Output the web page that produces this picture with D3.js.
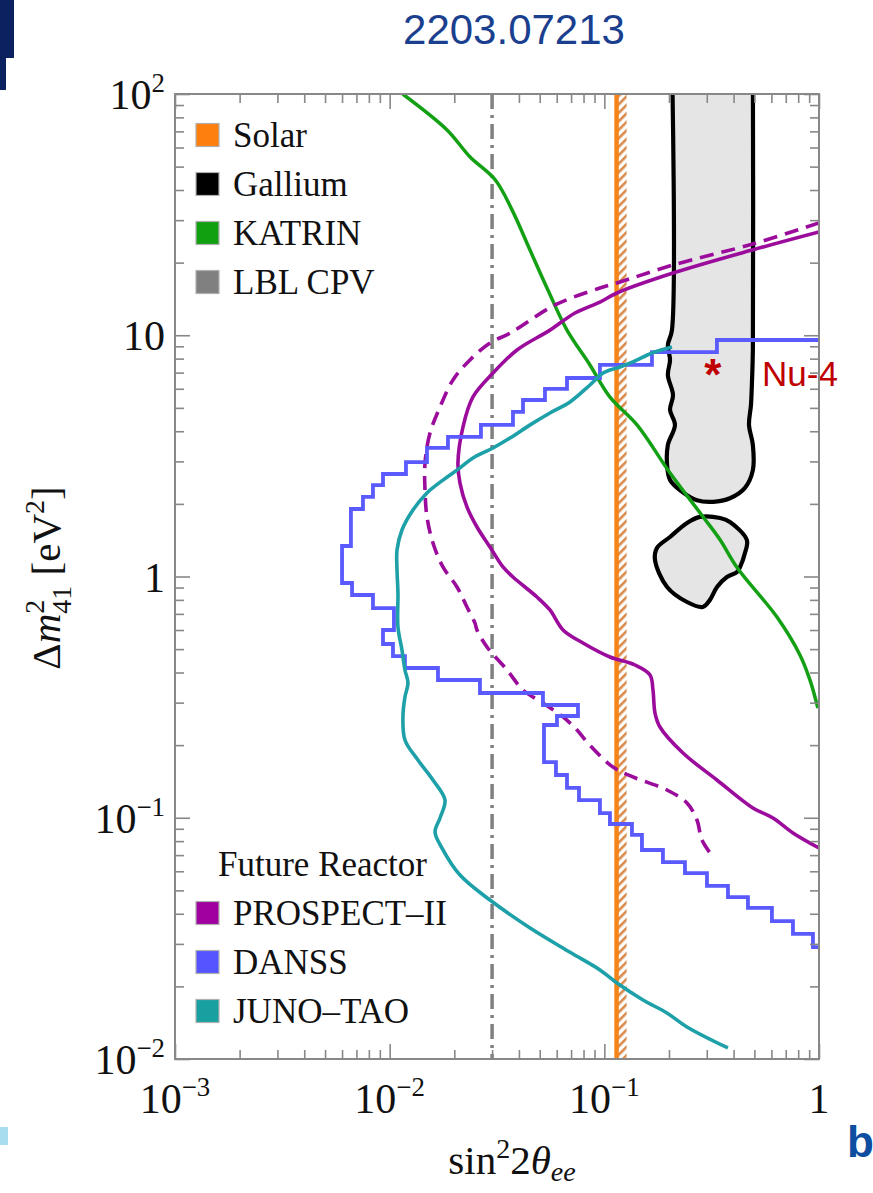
<!DOCTYPE html>
<html><head><meta charset="utf-8">
<script src="https://cdn.jsdelivr.net/npm/d3@7"></script>
<style>html,body{margin:0;padding:0;background:#fff;}svg{display:block;}</style>
</head><body>
<svg id="c" width="873" height="1193"></svg>
<script>
// ---------- data ----------
const xMajorTicks = [0.001, 0.01, 0.1, 1];
const xTickLabels = [["10","−3"],["10","−2"],["10","−1"],["1",""]];
const yMajorTicks = [0.01, 0.1, 1, 10, 100];
const yTickLabels = [["10","−2"],["10","−1"],["1",""],["10",""],["10","2"]];

const solarX = 0.114;      // solar bound
const solarBandEnd = 0.127; // hatched side
const lblCpvX = 0.03;       // LBL CPV dash-dot

const katrin = [[0.0115,100],[0.0185,71.0],[0.0237,54.8],[0.0310,44.1],[0.0372,33.0],[0.0451,22.5],[0.0546,15.4],[0.0670,10.5],[0.0857,7.53],[0.106,5.55],[0.142,4.25],[0.202,2.69],[0.288,1.77],[0.346,1.42],[0.415,1.09],[0.637,0.679],[0.815,0.473],[0.908,0.372],[0.988,0.285]];

const galliumUpper = [[0.2065,140],[0.2065,10.5],[0.1977,9.12],[0.2023,7.9],[0.1977,6.84],[0.2089,5.65],[0.2023,4.9],[0.2133,4.25],[0.1977,3.51],[0.196,2.9],[0.2023,2.51],[0.2249,2.28],[0.27,2.07],[0.3206,2.04],[0.3846,2.11],[0.4519,2.33],[0.492,2.76],[0.492,3.51],[0.472,4.25],[0.482,5.14],[0.4876,6.53],[0.492,8.68],[0.492,140]];
const galliumLower = [[0.279,1.766],[0.346,1.748],[0.3846,1.683],[0.4613,1.416],[0.4519,1.252],[0.4286,1.094],[0.415,1.044],[0.3724,0.995],[0.335,0.905],[0.3105,0.80],[0.2877,0.748],[0.2427,0.784],[0.196,0.905],[0.1722,1.17],[0.1758,1.313],[0.2023,1.458],[0.2427,1.667]];

const prospectSolid = [[1.0,26.8],[0.492,22.6],[0.2089,18.1],[0.1145,14.97],[0.0954,13.73],[0.0730,12.37],[0.0558,10.5],[0.0392,8.69],[0.03029,6.97],[0.02444,5.55],[0.02196,4.17],[0.0208,2.95],[0.02126,2.44],[0.02291,1.942],[0.02551,1.604],[0.02933,1.325],[0.03372,1.095],[0.03753,0.995],[0.04857,0.822],[0.0558,0.7266],[0.0642,0.600],[0.0795,0.530],[0.1062,0.4638],[0.1389,0.4297],[0.1632,0.3908],[0.1685,0.3385],[0.1722,0.2717],[0.1816,0.2378],[0.2325,0.1855],[0.3346,0.1434],[0.492,0.1098],[0.6102,0.0998],[0.7563,0.0865],[1.0,0.0749]];

const prospectDashed = [[1.0,29.2],[0.492,23.9],[0.2089,19.55],[0.1145,16.47],[0.0954,15.7],[0.0589,13.35],[0.03633,10.2],[0.02933,9.29],[0.02366,7.90],[0.01972,6.53],[0.01716,5.04],[0.01541,3.93],[0.01461,2.95],[0.01461,2.28],[0.01492,1.766],[0.01591,1.377],[0.01771,1.095],[0.02059,0.905],[0.02291,0.7475],[0.02495,0.6418],[0.02551,0.600],[0.02841,0.5101],[0.0352,0.4098],[0.0418,0.3385],[0.05177,0.299],[0.0642,0.2617],[0.0746,0.2311],[0.0857,0.1995],[0.1097,0.1623],[0.1359,0.1476],[0.1957,0.1303],[0.2426,0.1151],[0.2701,0.0979],[0.2849,0.0809],[0.3206,0.0688]];

const danss = [[1.0,9.557],[0.3346,9.557],[0.3346,8.52],[0.1667,8.52],[0.1667,7.53],[0.0954,7.53],[0.0954,6.65],[0.0670,6.65],[0.0670,5.99],[0.0529,5.99],[0.0529,5.39],[0.0418,5.39],[0.0418,4.81],[0.03753,4.81],[0.03753,4.25],[0.02662,4.25],[0.02662,3.79],[0.01869,3.79],[0.01869,3.41],[0.01492,3.41],[0.01492,2.98],[0.01191,2.98],[0.01191,2.66],[0.00931,2.66],[0.00931,2.39],[0.00836,2.39],[0.00836,2.14],[0.00751,2.14],[0.00751,1.905],[0.0066,1.905],[0.0066,1.338],[0.0060,1.338],[0.0060,0.940],[0.00668,0.940],[0.00668,0.838],[0.00836,0.838],[0.00836,0.740],[0.01047,0.740],[0.01047,0.600],[0.00931,0.600],[0.00931,0.525],[0.01036,0.525],[0.01036,0.468],[0.01178,0.468],[0.01178,0.4176],[0.01679,0.4176],[0.01679,0.3724],[0.02634,0.3724],[0.02634,0.329],[0.05177,0.329],[0.05177,0.2934],[0.07538,0.2934],[0.07538,0.2641],[0.06017,0.2641],[0.06017,0.2424],[0.05235,0.2424],[0.05235,0.170],[0.05952,0.170],[0.05952,0.1504],[0.0670,0.1504],[0.0670,0.1329],[0.0762,0.1329],[0.0762,0.1184],[0.0954,0.1184],[0.0954,0.1046],[0.1062,0.1046],[0.1062,0.0942],[0.1345,0.0942],[0.1345,0.0849],[0.1497,0.0849],[0.1497,0.0735],[0.1875,0.0735],[0.1875,0.0655],[0.2375,0.0655],[0.2375,0.0590],[0.3007,0.0590],[0.3007,0.0522],[0.3766,0.0522],[0.3766,0.0469],[0.4667,0.0469],[0.4667,0.0423],[0.6036,0.0423],[0.6036,0.0373],[0.7563,0.0373],[0.7563,0.0330],[0.9372,0.0330],[0.9372,0.0291],[1.0,0.0291]];

const junoTao = [[0.2065,8.94],[0.1667,8.44],[0.1359,7.75],[0.1183,7.39],[0.1062,7.18],[0.0986,6.97],[0.0857,6.22],[0.0692,5.29],[0.0558,4.76],[0.0451,4.25],[0.03633,3.75],[0.03029,3.41],[0.02444,3.10],[0.02126,2.82],[0.01771,2.51],[0.01492,2.22],[0.01284,1.887],[0.01141,1.559],[0.01082,1.288],[0.01082,1.064],[0.01093,0.854],[0.01093,0.6175],[0.01141,0.4958],[0.01178,0.4098],[0.01217,0.362],[0.01178,0.3166],[0.01153,0.2617],[0.01178,0.2101],[0.01354,0.1735],[0.01591,0.1434],[0.0181,0.1184],[0.01716,0.0998],[0.01627,0.0873],[0.01753,0.0749],[0.02126,0.0579],[0.02933,0.0456],[0.0451,0.0349],[0.0692,0.0277],[0.0954,0.0234],[0.1145,0.02065],[0.1514,0.01757],[0.1957,0.01552],[0.2426,0.01358],[0.3766,0.01111]];

const nu4 = {x: 0.32, y: 7.2, label: "Nu-4"};
const title = "2203.07213";

const legendTop = [
  {label:"Solar", color:"#ff7f0e"},
  {label:"Gallium", color:"#000000"},
  {label:"KATRIN", color:"#10a010"},
  {label:"LBL CPV", color:"#808080"}
];
const legendBottomTitle = "Future Reactor";
const legendBottom = [
  {label:"PROSPECT–II", color:"#a000a0"},
  {label:"DANSS", color:"#5555ff"},
  {label:"JUNO–TAO", color:"#18a0a0"}
];

// ---------- drawing ----------
const svg = d3.select("#c");
const L=175, R=819, T=94, B=1059;
const x = d3.scaleLog().domain([1e-3,1]).range([L,R]);
const y = d3.scaleLog().domain([1e-2,1e2]).range([B,T]);
const serif = "'Liberation Serif','DejaVu Serif',serif";
const sans = "'Liberation Sans',Arial,sans-serif";

// decorations
svg.append("rect").attr("x",0).attr("y",0).attr("width",14).attr("height",58).attr("fill","#0b2160");
svg.append("rect").attr("x",0).attr("y",58).attr("width",6).attr("height",32).attr("fill","#0b2160");
svg.append("rect").attr("x",0).attr("y",1127).attr("width",8).attr("height",18).attr("fill","#a8dcef");
svg.append("text").attr("x",514).attr("y",44).attr("text-anchor","middle")
  .attr("font-family",sans).attr("font-size",42).attr("fill","#1b3f8f").text(title);
svg.append("text").attr("x",847).attr("y",1157).attr("font-family",sans).attr("font-weight","bold")
  .attr("font-size",44).attr("fill","#0d4ea0").text("b");

const defs = svg.append("defs");
defs.append("clipPath").attr("id","clip").append("rect").attr("x",L).attr("y",T).attr("width",R-L).attr("height",B-T);
const pat = defs.append("pattern").attr("id","hatch").attr("patternUnits","userSpaceOnUse")
  .attr("width",6).attr("height",6).attr("patternTransform","rotate(45)");
pat.append("rect").attr("width",6).attr("height",6).attr("fill","#fff");
pat.append("rect").attr("width",2.6).attr("height",6).attr("fill","#d98a4a");

const g = svg.append("g").attr("clip-path","url(#clip)");

// solar hatch + line
g.append("rect").attr("x",x(solarX)).attr("y",T).attr("width",x(solarBandEnd)-x(solarX)).attr("height",B-T)
  .attr("fill","url(#hatch)");
g.append("line").attr("x1",x(solarX)).attr("x2",x(solarX)).attr("y1",T).attr("y2",B)
  .attr("stroke","#f58518").attr("stroke-width",4.5);

// LBL CPV
g.append("line").attr("x1",x(lblCpvX)).attr("x2",x(lblCpvX)).attr("y1",T).attr("y2",B)
  .attr("stroke","#808080").attr("stroke-width",3.5).attr("stroke-dasharray","15,6,3,6");

const line = d3.line().x(d=>x(d[0])).y(d=>y(d[1]));
const smooth = d3.line().x(d=>x(d[0])).y(d=>y(d[1])).curve(d3.curveCatmullRom.alpha(0.5));
const blob = d3.line().x(d=>x(d[0])).y(d=>y(d[1])).curve(d3.curveCatmullRomClosed.alpha(0.5));

// gallium
g.append("path").attr("d",smooth(galliumUpper)+"Z").attr("fill","#e5e5e5").attr("stroke","#000").attr("stroke-width",4.2);
g.append("path").attr("d",blob(galliumLower)).attr("fill","#e5e5e5").attr("stroke","#000").attr("stroke-width",4.2);

// curves
g.append("path").attr("d",smooth(katrin)).attr("fill","none").attr("stroke","#14a014").attr("stroke-width",3.5);
g.append("path").attr("d",smooth(prospectDashed)).attr("fill","none").attr("stroke","#9c0c9c").attr("stroke-width",3.6).attr("stroke-dasharray","14,8");
g.append("path").attr("d",smooth(prospectSolid)).attr("fill","none").attr("stroke","#9c0c9c").attr("stroke-width",3.6);
g.append("path").attr("d",line(danss)).attr("fill","none").attr("stroke","#5a5aff").attr("stroke-width",3.8).attr("stroke-linejoin","miter");
g.append("path").attr("d",smooth(junoTao)).attr("fill","none").attr("stroke","#1ea0a8").attr("stroke-width",3.6);

// Nu-4
svg.append("text").attr("x",x(nu4.x)).attr("y",y(nu4.y)+20).attr("text-anchor","middle")
  .attr("font-family",sans).attr("font-weight","bold").attr("font-size",44).attr("fill","#c00000").text("*");
svg.append("text").attr("x",762).attr("y",y(nu4.y)+16).attr("font-family",sans).attr("font-size",35)
  .attr("fill","#c00000").text(nu4.label);

// axes frame + ticks
const axColor = "#888";
const xMinor = x.ticks().filter(v => !xMajorTicks.some(m => Math.abs(m-v)/m < 1e-6));
const yMinor = y.ticks().filter(v => !yMajorTicks.some(m => Math.abs(m-v)/m < 1e-6));
function styleAx(sel){ sel.select(".domain").remove(); sel.selectAll("line").attr("stroke",axColor).attr("stroke-width",1.6); sel.selectAll("text").remove(); }
[[d3.axisTop, B],[d3.axisBottom, T]].forEach(([f,pos])=>{
  svg.append("g").attr("transform",`translate(0,${pos})`).call(f(x).tickValues(xMajorTicks).tickSize(15)).call(styleAx);
  svg.append("g").attr("transform",`translate(0,${pos})`).call(f(x).tickValues(xMinor).tickSize(9)).call(styleAx);
});
[[d3.axisRight, L],[d3.axisLeft, R]].forEach(([f,pos])=>{
  svg.append("g").attr("transform",`translate(${pos},0)`).call(f(y).tickValues(yMajorTicks).tickSize(15)).call(styleAx);
  svg.append("g").attr("transform",`translate(${pos},0)`).call(f(y).tickValues(yMinor).tickSize(9)).call(styleAx);
});
svg.append("rect").attr("x",L).attr("y",T).attr("width",R-L).attr("height",B-T).attr("fill","none").attr("stroke",axColor).attr("stroke-width",2);

// tick labels
const tfs = 42;
xMajorTicks.forEach((v,i)=>{
  const t = svg.append("text").attr("x",x(v)).attr("y",1113).attr("text-anchor","middle")
    .attr("font-family",serif).attr("font-size",tfs).attr("fill","#111");
  t.append("tspan").text(xTickLabels[i][0]);
  if (xTickLabels[i][1]) t.append("tspan").attr("dy",-17).attr("font-size",tfs*0.64).text(xTickLabels[i][1]);
});
yMajorTicks.forEach((v,i)=>{
  const t = svg.append("text").attr("x",165).attr("y",y(v)+15).attr("text-anchor","end")
    .attr("font-family",serif).attr("font-size",tfs).attr("fill","#111");
  t.append("tspan").text(yTickLabels[i][0]);
  if (yTickLabels[i][1]) t.append("tspan").attr("dy",-17).attr("font-size",tfs*0.64).text(yTickLabels[i][1]);
});

// axis titles
const xt = svg.append("text").attr("x",512).attr("y",1174).attr("text-anchor","middle")
  .attr("font-family",serif).attr("font-size",41).attr("fill","#111");
xt.append("tspan").text("sin");
xt.append("tspan").attr("dy",-16).attr("font-size",28).text("2");
xt.append("tspan").attr("dy",16).text("2");
xt.append("tspan").attr("font-style","italic").text("θ");
xt.append("tspan").attr("dy",7).attr("font-size",28).attr("font-style","italic").text("ee");

const yt = svg.append("text").attr("transform","translate(60,578) rotate(-90)").attr("text-anchor","middle")
  .attr("font-family",serif).attr("font-size",41).attr("fill","#111");
yt.append("tspan").text("Δ");
yt.append("tspan").attr("font-style","italic").text("m");
yt.append("tspan").attr("dy",-16).attr("font-size",28).text("2");
yt.append("tspan").attr("dx",-14).attr("dy",27).attr("font-size",28).text("41");
yt.append("tspan").attr("dy",-11).text(" [eV");
yt.append("tspan").attr("dy",-16).attr("font-size",28).text("2");
yt.append("tspan").attr("dy",16).text("]");

// legends
const lfs = 35;
legendTop.forEach((d,i)=>{
  const cy = 135 + i*49;
  svg.append("rect").attr("x",196).attr("y",cy-11.5).attr("width",23).attr("height",23)
    .attr("fill",d.color).attr("stroke","#b0b0b0").attr("stroke-width",1.2);
  svg.append("text").attr("x",233).attr("y",cy+12).attr("font-family",serif).attr("font-size",lfs).attr("fill","#111").text(d.label);
});
svg.append("text").attr("x",218).attr("y",876).attr("font-family",serif).attr("font-size",lfs).attr("fill","#111").text(legendBottomTitle);
legendBottom.forEach((d,i)=>{
  const cy = 913 + i*49;
  svg.append("rect").attr("x",196).attr("y",cy-11.5).attr("width",23).attr("height",23)
    .attr("fill",d.color).attr("stroke","#b0b0b0").attr("stroke-width",1.2);
  svg.append("text").attr("x",233).attr("y",cy+12).attr("font-family",serif).attr("font-size",lfs).attr("fill","#111").text(d.label);
});
</script>
</body></html>
